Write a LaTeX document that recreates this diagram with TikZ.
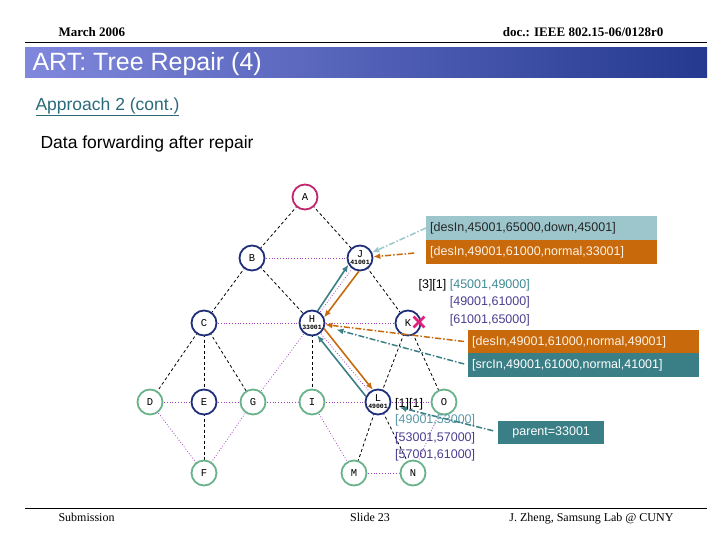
\documentclass[tikz,border=0pt]{standalone}
\usepackage{fontspec}
\setmainfont{Liberation Serif}
\setsansfont{Liberation Sans}
\setmonofont{Liberation Mono}
\usetikzlibrary{arrows.meta, shapes.misc}
\definecolor{treenavy}{HTML}{1F2F7A}
\definecolor{treegreen}{HTML}{6AB28A}
\definecolor{rootmagenta}{HTML}{C0256E}
\definecolor{linkpurple}{HTML}{A040C0}
\definecolor{msgorange}{HTML}{C86A0C}
\definecolor{msgteal}{HTML}{3A7F86}
\definecolor{msglight}{HTML}{9CC6CC}
\definecolor{rangenavy}{HTML}{4A3F90}
\definecolor{rangeteal}{HTML}{3F8A92}
\definecolor{rangelight}{HTML}{5A98A8}
\definecolor{crossred}{HTML}{E0207A}
\definecolor{titleleft}{HTML}{8088DD}
\definecolor{titlemid}{HTML}{9AA0EC}
\definecolor{titleright}{HTML}{24398F}
\definecolor{approachteal}{HTML}{2A6A7A}

\begin{document}
\begin{tikzpicture}[
    x=1pt, y=-1pt,
    % ── Node styles ──────────────────────────────────────────────────────
    tnode/.style={
        circle, draw, line width=1.8pt, fill=white,
        minimum size=25pt, inner sep=0pt, align=center,
        font=\fontsize{10.5}{10.5}\selectfont\ttfamily
    },
    oldnode/.style={tnode, draw=treenavy},
    newnode/.style={tnode, draw=treegreen},
    rootnode/.style={tnode, draw=rootmagenta},
    msgbox/.style={
        anchor=west, minimum width=231pt, minimum height=24pt,
        inner sep=4pt, text width=223pt,
        font=\fontsize{12.5}{14}\selectfont\sffamily
    },
    rangetext/.style={
        font=\fontsize{12.5}{17.5}\selectfont\sffamily,
        text=rangenavy, inner sep=0pt
    },
    headtext/.style={font=\fontsize{13}{15}\selectfont\bfseries},
    foottext/.style={font=\fontsize{12}{14}\selectfont},
    % ── Line styles ──────────────────────────────────────────────────────
    treeedge/.style={line width=0.8pt, dash pattern=on 3pt off 2.5pt},
    link/.style={linkpurple, line width=0.8pt, dotted},
    arr/.style={-{Latex[length=7pt, width=6pt]}, line width=1.6pt},
    msgarr/.style={-{Latex[length=7pt, width=6pt]}, line width=1.5pt,
        dash pattern=on 6pt off 2pt on 1.5pt off 2pt}
]
\useasboundingbox (0,0) rectangle (720,540);

% ═══════════════════════════════════════════════════════════════════════════
% Header, title and footer
% ═══════════════════════════════════════════════════════════════════════════
\node[headtext, anchor=base west] (date) at (55,37) {March 2006};
\node[headtext, anchor=base east] (doc) at (667,37) {doc.: IEEE 802.15-06/0128r0};
\draw[line width=1pt] (25,43) -- (707,43);
\shade[left color=titleleft, middle color=titlemid, right color=titleright]
    (25,48) rectangle (707,78);
\node[anchor=west, text=white, font=\fontsize{25}{27}\selectfont\sffamily]
    (title) at (29,64) {ART: Tree Repair (4)};
\node[anchor=west, text=approachteal, font=\fontsize{17.5}{19}\selectfont\sffamily]
    (approach) at (32,107) {\underline{Approach 2 (cont.)}};
\node[anchor=west, font=\fontsize{17.5}{19}\selectfont\sffamily]
    (subtitle) at (37,144) {Data forwarding after repair};

\draw[line width=1pt] (25,508) -- (707,508);
\node[foottext, anchor=base west] (submission) at (55,521) {Submission};
\node[foottext, anchor=base] (slide) at (370,521) {Slide 23};
\node[foottext, anchor=base east] (author) at (677,521) {J. Zheng, Samsung Lab @ CUNY};

% ═══════════════════════════════════════════════════════════════════════════
% Tree edges and neighbour links
% ═══════════════════════════════════════════════════════════════════════════
\coordinate (pA) at (305,197);
\coordinate (pB) at (252,258);
\coordinate (pJ) at (360,258);
\coordinate (pC) at (204,323);
\coordinate (pH) at (312,323);
\coordinate (pK) at (408,323);
\coordinate (pD) at (150,402);
\coordinate (pE) at (204,402);
\coordinate (pG) at (253,402);
\coordinate (pI) at (312,402);
\coordinate (pL) at (378,402);
\coordinate (pO) at (444,402);
\coordinate (pF) at (204,473);
\coordinate (pM) at (354,473);
\coordinate (pN) at (413,473);

\foreach \a/\b in {A/B, A/J, B/C, B/H, J/K, C/D, C/E, C/G, H/I, K/L, K/O,
                   E/F, L/M, L/N}
    \draw[treeedge] (p\a) -- (p\b);

\foreach \a/\b in {B/J, C/H, H/K, H/J, H/L, D/E, E/G, G/I, I/L, L/O, D/F,
                   G/F, G/H, I/M, M/N, O/N}
    \draw[link] (p\a) -- (p\b);

% ═══════════════════════════════════════════════════════════════════════════
% Nodes
% ═══════════════════════════════════════════════════════════════════════════
\node[rootnode] (A) at (pA) {A};
\node[oldnode] (B) at (pB) {B};
\node[oldnode] (J) at (pJ) {J\\[-3.5pt]{\fontsize{6.5}{6.5}\selectfont\bfseries 41001}};
\node[oldnode] (C) at (pC) {C};
\node[oldnode] (H) at (pH) {H\\[-3.5pt]{\fontsize{6.5}{6.5}\selectfont\bfseries 33001}};
\node[oldnode] (K) at (pK) {K};
\node[newnode] (D) at (pD) {D};
\node[oldnode] (E) at (pE) {E};
\node[newnode] (G) at (pG) {G};
\node[newnode] (I) at (pI) {I};
\node[oldnode] (L) at (pL) {L\\[-3.5pt]{\fontsize{6.5}{6.5}\selectfont\bfseries 49001}};
\node[newnode] (O) at (pO) {O};
\node[newnode] (F) at (pF) {F};
\node[newnode] (M) at (pM) {M};
\node[newnode] (N) at (pN) {N};

% K has failed
\node[cross out, draw=crossred, line width=2.8pt, minimum size=8pt,
      inner sep=0pt] (kfail) at (419,322) {};

% ═══════════════════════════════════════════════════════════════════════════
% Messages and address ranges
% ═══════════════════════════════════════════════════════════════════════════
\node[msgbox, fill=msglight, text=black!85] (msgdown) at (426,228)
    {[desIn,45001,65000,down,45001]};
\node[msgbox, fill=msgorange, text=white!90!orange] (msgnormal) at (426,252)
    {[desIn,49001,61000,normal,33001]};
\node[msgbox, fill=msgorange, text=white!90!orange] (msgtoh) at (468,342)
    {[desIn,49001,61000,normal,49001]};
\node[msgbox, fill=msgteal, text=white] (msgsrc) at (468,365)
    {[srcIn,49001,61000,normal,41001]};
\node[anchor=west, fill=msgteal, text=white, minimum width=106pt,
      minimum height=23pt, font=\fontsize{12.5}{14}\selectfont\sffamily]
    (parent) at (498,432) {parent=33001};

\node[rangetext, anchor=north east, align=right] (kranges) at (530,279)
    {\textcolor{black}{[3][1]} \textcolor{rangeteal}{[45001,49000]}\\
     {[49001,61000]}\\ {[61001,65000]}};
\node[rangetext, anchor=north west, align=left] (lranges) at (395,398)
    {\textcolor{black}{[1][1]}\\[-1pt] \textcolor{rangelight}{[49001,53000]}\\
     {[53001,57000]}\\ {[57001,61000]}};

% ═══════════════════════════════════════════════════════════════════════════
% Arrows
% ═══════════════════════════════════════════════════════════════════════════
\draw[msgarr, msglight] (msgdown.west) -- (J);
\draw[msgarr, msgorange, shorten <=12pt] (msgnormal.west) -- (J);
\draw[arr, msgteal] (H.65) -- (J.210);
\draw[arr, msgorange] (J.265) -- (H.25);
\draw[msgarr, msgorange, shorten <=4pt] (msgtoh.west) -- (H);
\draw[msgarr, msgteal, shorten <=4pt, shorten >=12pt] (msgsrc.west) -- (H);
\draw[arr, msgorange] (H.-25) -- (L.113);
\draw[arr, msgteal] (L.155) -- (H.-67);
\draw[msgarr, msgteal, shorten <=5pt, shorten >=9pt] (parent.west) -- (L);

\end{tikzpicture}
\end{document}
